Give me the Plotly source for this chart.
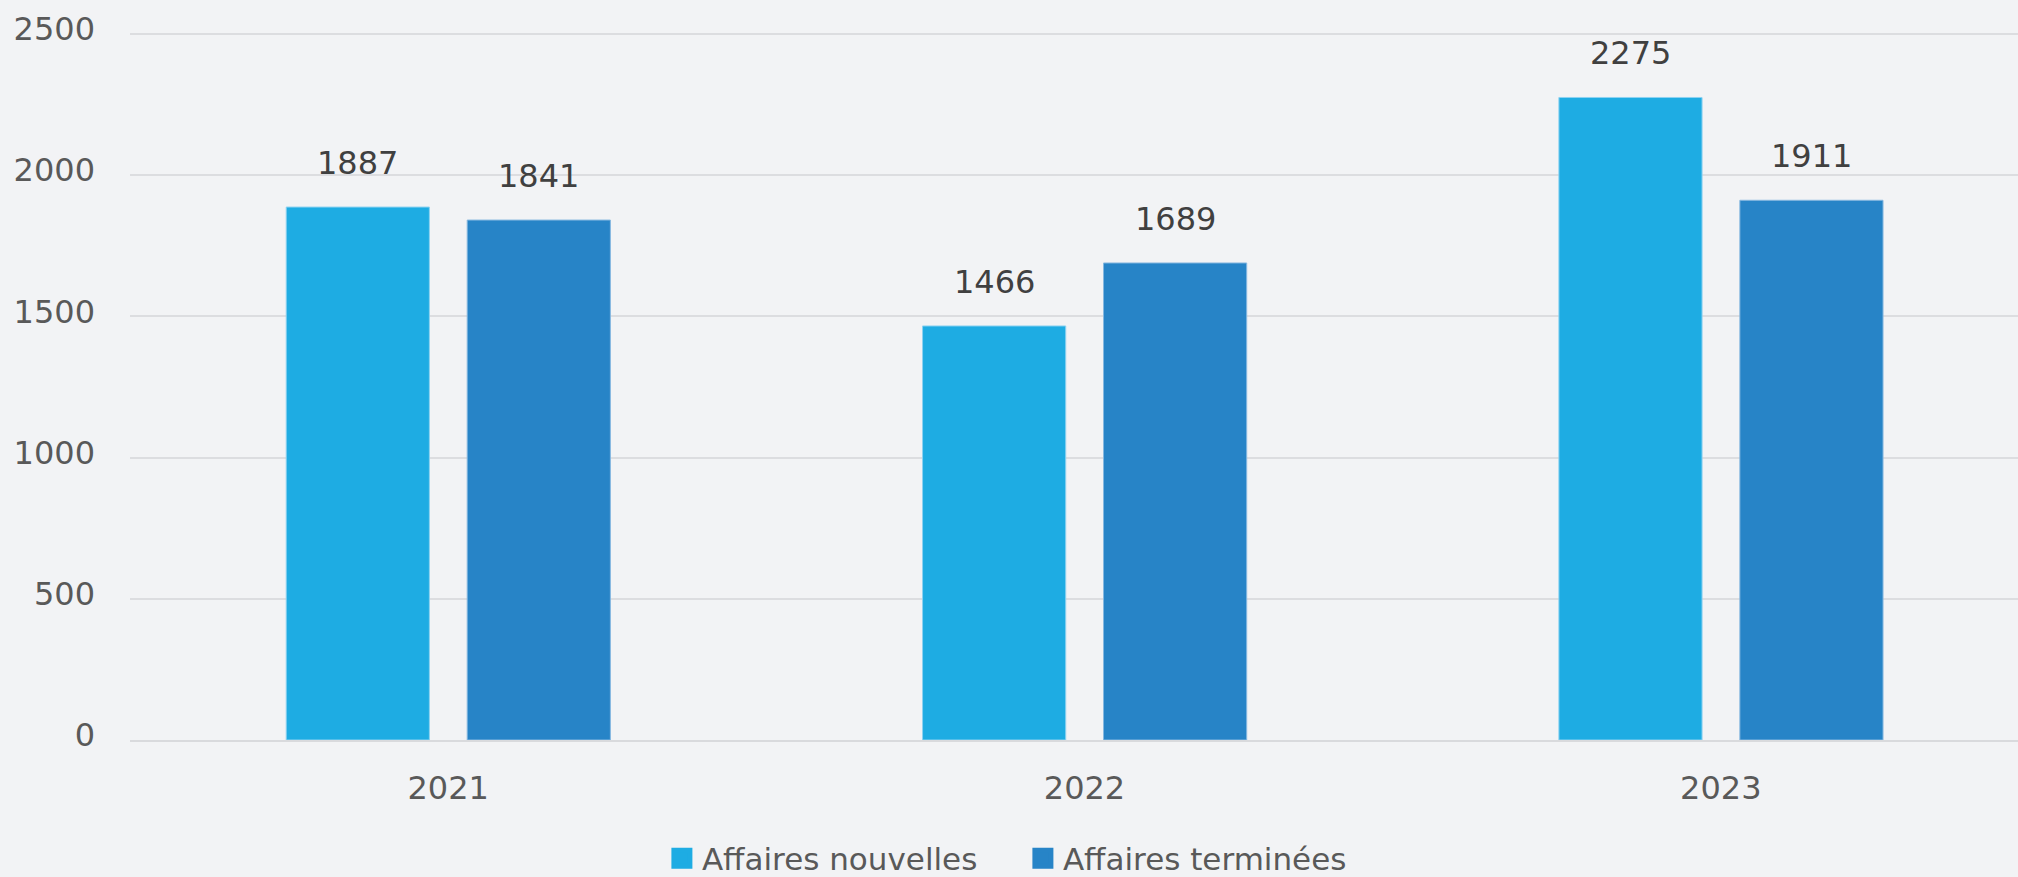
import plotly.graph_objects as go

years = ["2021", "2022", "2023"]
nouvelles = [1887, 1466, 2275]
terminees = [1841, 1689, 1911]
series_names = ["Affaires nouvelles", "Affaires terminées"]
y_ticks = [0, 500, 1000, 1500, 2000, 2500]

FONT = "Verdana, DejaVu Sans, sans-serif"
BG = "#f2f3f5"
colors = ["#1eace3", "#2784c7"]
edges = ["#8dd2f1", "#86b8e0"]

# bar geometry as fraction of one category
bar_w = 0.225
offsets = [-0.2545, 0.0299]

fig = go.Figure()
for name, vals, col, edge, off in zip(series_names, [nouvelles, terminees], colors, edges, offsets):
    fig.add_trace(go.Bar(
        x=years, y=vals, name=name, legendgroup=name, showlegend=False,
        width=bar_w, offset=off,
        marker=dict(color=col, line=dict(color=edge, width=1)),
    ))
    # legend entry with a bigger square swatch
    fig.add_trace(go.Scatter(
        x=[None], y=[None], name=name, legendgroup=name, mode="markers",
        marker=dict(symbol="square", size=16, color=col, line=dict(color=col, width=5)),
    ))

# value labels above the bars (x given as category index)
for vals, off in zip([nouvelles, terminees], offsets):
    shift = round((off + bar_w / 2) * 636.5, 1)
    for i, v in enumerate(vals):
        fig.add_annotation(
            x=i, y=v, xref="x", yref="y", text=str(v), showarrow=False,
            xshift=shift, yshift=23, yanchor="bottom",
            font=dict(family=FONT, size=32, color="#404040"),
        )

fig.update_layout(
    width=2018, height=877,
    margin=dict(l=130, r=0, t=28, b=137),
    paper_bgcolor=BG, plot_bgcolor=BG,
    barmode="overlay",
    font=dict(family=FONT, size=32, color="#595959"),
    showlegend=True,
    legend=dict(
        orientation="h", xref="container", yref="container",
        x=0.328, xanchor="left", y=0.021, yanchor="middle",
        entrywidth=316, entrywidthmode="pixels",
        font=dict(family=FONT, size=31, color="#595959"),
        bgcolor="rgba(0,0,0,0)",
    ),
)
fig.update_xaxes(
    type="category", range=[-0.5, 2.467],
    showgrid=False, showline=True, linecolor="#d9dadd", linewidth=2,
    ticks="", ticklabelstandoff=19,
    tickfont=dict(family=FONT, size=32, color="#595959"),
)
fig.update_yaxes(
    range=[0, 2521], tickvals=y_ticks, tickformat="d",
    showgrid=True, gridcolor="#dcdde0", gridwidth=2,
    zeroline=False, showline=False,
    ticks="", ticklabelstandoff=34, ticklabelshift=-5,
    tickfont=dict(family=FONT, size=32, color="#595959"),
)

fig.write_html("out.html", config={"displayModeBar": False},
               post_script="document.body.style.margin='0';")
